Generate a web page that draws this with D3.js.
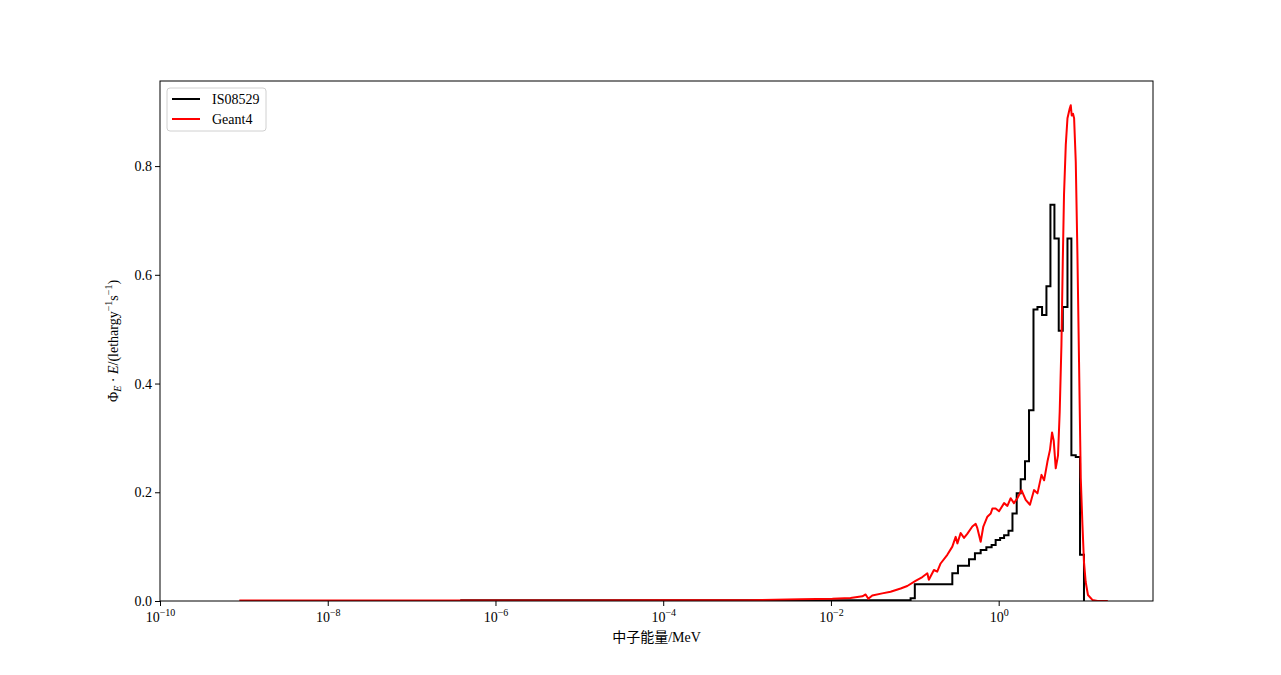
<!DOCTYPE html>
<html>
<head>
  <meta charset="utf-8" />
  <title>Neutron spectrum</title>
  <script type="text/javascript" src="https://cdn.jsdelivr.net/npm/d3@7/dist/d3.min.js"></script>
  <style>
    body{
      margin: 0;
      background: white;
    }
    text{
      font-family: "Liberation Serif", "Noto Sans CJK SC", serif;
    }
  </style>
</head>
<body>
  <script type="text/javascript">
    // - - - - - CONSTANTS - - - - -//
    var w = 1281;
    var h = 675;
    var plotL = 160;
    var plotR = 1153;
    var plotT = 81;
    var plotB = 601;

    // - - - - - DATA - - - - - //
    //ISO8529 histogram: bin edges (MeV) and lethargy values per bin
    var isoEdges = [3.8e-7, 0.0891, 0.100, 0.280, 0.327, 0.443, 0.521, 0.610, 0.713,
      0.824, 0.920, 1.04, 1.16, 1.31, 1.46, 1.64, 1.83, 2.06, 2.30, 2.60, 2.90,
      3.29, 3.71, 4.14, 4.62, 5.20, 5.81, 6.61, 7.36, 8.30, 9.33, 10.4];
    var isoValues = [0.0015, 0.005, 0.031, 0.051, 0.065, 0.077, 0.088, 0.094, 0.099,
      0.103, 0.112, 0.116, 0.121, 0.129, 0.161, 0.198, 0.224, 0.257, 0.351, 0.536,
      0.541, 0.526, 0.579, 0.729, 0.667, 0.497, 0.541, 0.667, 0.268, 0.265, 0.085];

    //Geant4 simulated spectrum: energies (MeV) and values
    var g4Energy = [8.83e-10, 1e-8, 1e-7, 1e-6, 1e-5, 1e-4, 1e-3, 4.34e-3, 0.0104,
      0.0171, 0.0237, 0.0259, 0.0279, 0.0311, 0.0409, 0.0514, 0.0678, 0.0813,
      0.102, 0.123, 0.141, 0.147, 0.169, 0.185, 0.203, 0.244, 0.280, 0.307, 0.322,
      0.352, 0.386, 0.424, 0.485, 0.532, 0.557, 0.610, 0.656, 0.733, 0.804, 0.841,
      0.920, 1.01, 1.16, 1.27, 1.39, 1.52, 1.67, 1.87, 2.10, 2.36, 2.64, 2.90,
      3.24, 3.48, 3.81, 4.09, 4.33, 4.53, 4.79, 5.10, 5.34, 5.60, 5.81, 6.01,
      6.31, 6.61, 7.03, 7.23, 7.43, 7.71, 7.93, 8.30, 8.69, 9.08, 9.52, 9.97,
      10.4, 10.9, 11.6, 13.1, 15.1, 20.0];
    var g4Values = [0.0008, 0.0008, 0.0008, 0.0009, 0.001, 0.0012, 0.0015, 0.003, 0.004,
      0.0055, 0.0086, 0.012, 0.004, 0.010, 0.014, 0.017, 0.023, 0.0276,
      0.037, 0.044, 0.051, 0.039, 0.057, 0.054, 0.069, 0.085, 0.100, 0.118, 0.106,
      0.125, 0.116, 0.124, 0.137, 0.142, 0.134, 0.109, 0.137, 0.155, 0.161, 0.170,
      0.170, 0.165, 0.180, 0.175, 0.189, 0.180, 0.189, 0.204, 0.186, 0.177, 0.204, 0.198,
      0.232, 0.222, 0.256, 0.278, 0.310, 0.295, 0.244, 0.268, 0.348, 0.471, 0.624, 0.747,
      0.839, 0.888, 0.906, 0.912, 0.893, 0.896, 0.888, 0.808, 0.636, 0.440, 0.226, 0.140,
      0.072, 0.035, 0.011, 0.002, 0.0, 0.0];

    //Axis ticks
    var xTicks = [1e-10, 1e-8, 1e-6, 1e-4, 1e-2, 1];
    var xTickExp = ["\u221210", "\u22128", "\u22126", "\u22124", "\u22122", "0"];
    var yTicks = [0, 0.2, 0.4, 0.6, 0.8];
    var seriesNames = ["IS08529", "Geant4"];
    var seriesColors = ["black", "red"];

    // - - - - - CANVAS ELEMENT - - - - - //
    var svg = d3.select("body")
      .append("svg")
      .attr("width", w)
      .attr("height", h);

    // - - - - - SCALES - - - - - //
    var xScale = d3.scaleLog()
      .domain([1e-10, Math.pow(10, 1.84)])
      .range([plotL, plotR]);
    var yScale = d3.scaleLinear()
      .domain([0, 0.9565])
      .range([plotB, plotT]);

    // - - - - - CLIP - - - - - //
    svg.append("clipPath")
      .attr("id", "plotclip")
      .append("rect")
      .attr("x", plotL)
      .attr("y", plotT)
      .attr("width", plotR - plotL)
      .attr("height", plotB - plotT);

    var plot = svg.append("g")
      .attr("clip-path", "url(#plotclip)");

    // - - - - - ISO8529 STEP HISTOGRAM - - - - - //
    var isoPts = isoValues.map(function(v, i){
      return [isoEdges[i], v];
    });
    isoPts.push([isoEdges[isoEdges.length - 1], 0]);

    plot.append("path")
      .datum(isoPts)
      .attr("fill", "none")
      .attr("stroke", seriesColors[0])
      .attr("stroke-width", 2)
      .attr("d", d3.line()
        .curve(d3.curveStepAfter)
        .x(function(d){ return xScale(d[0]); })
        .y(function(d){ return yScale(d[1]); }));

    // - - - - - GEANT4 LINE - - - - - //
    plot.append("path")
      .datum(d3.zip(g4Energy, g4Values))
      .attr("fill", "none")
      .attr("stroke", seriesColors[1])
      .attr("stroke-width", 2)
      .attr("stroke-linejoin", "round")
      .attr("d", d3.line()
        .x(function(d){ return xScale(d[0]); })
        .y(function(d){ return yScale(d[1]); }));

    // - - - - - AXES - - - - - //
    var xAxis = svg.append("g")
      .attr("transform", "translate(0," + plotB + ")")
      .call(d3.axisBottom(xScale)
        .tickValues(xTicks)
        .tickSize(5)
        .tickSizeOuter(0)
        .tickFormat(function(){ return ""; }));
    xAxis.select(".domain").remove();
    xAxis.selectAll(".tick line").attr("stroke", "black");
    xAxis.selectAll(".tick text").remove();
    xAxis.selectAll(".tick")
      .append("text")
      .attr("y", 21)
      .attr("fill", "black")
      .attr("font-size", "14px")
      .attr("text-anchor", "middle")
      .each(function(d, i){
        var t = d3.select(this);
        t.append("tspan").text("10");
        t.append("tspan")
          .attr("dy", -6)
          .attr("font-size", "10px")
          .text(xTickExp[i]);
      });

    var yAxis = svg.append("g")
      .attr("transform", "translate(" + plotL + ",0)")
      .call(d3.axisLeft(yScale)
        .tickValues(yTicks)
        .tickSize(5)
        .tickSizeOuter(0)
        .tickFormat(d3.format(".1f")));
    yAxis.select(".domain").remove();
    yAxis.selectAll(".tick line").attr("stroke", "black");
    yAxis.selectAll(".tick text")
      .attr("x", -8)
      .attr("fill", "black")
      .attr("font-size", "14px")
      .attr("font-family", "Liberation Serif, serif");

    //Frame
    svg.append("rect")
      .attr("x", plotL)
      .attr("y", plotT)
      .attr("width", plotR - plotL)
      .attr("height", plotB - plotT)
      .attr("fill", "none")
      .attr("stroke", "black")
      .attr("stroke-width", 1);

    // - - - - - AXIS LABELS - - - - - //
    svg.append("text")
      .attr("x", (plotL + plotR) / 2)
      .attr("y", 642)
      .attr("text-anchor", "middle")
      .attr("font-size", "14px")
      .text("中子能量/MeV");

    var ylab = svg.append("text")
      .attr("transform", "translate(118," + ((plotT + plotB) / 2) + ") rotate(-90)")
      .attr("text-anchor", "middle")
      .attr("font-size", "14px");
    ylab.append("tspan").text("\u03A6");
    ylab.append("tspan").attr("font-style", "italic").attr("font-size", "10px").attr("dy", 3).text("E");
    ylab.append("tspan").attr("dy", -3).text(" \u00B7 ");
    ylab.append("tspan").attr("font-style", "italic").text("E");
    ylab.append("tspan").text("/(lethargy");
    ylab.append("tspan").attr("font-size", "10px").attr("dy", -6).text("\u22121");
    ylab.append("tspan").attr("dy", 6).text("s");
    ylab.append("tspan").attr("font-size", "10px").attr("dy", -6).text("\u22121");
    ylab.append("tspan").attr("dy", 6).text(")");

    // - - - - - LEGEND - - - - - //
    var legend = svg.append("g")
      .attr("transform", "translate(167,88)");
    legend.append("rect")
      .attr("width", 99)
      .attr("height", 43)
      .attr("rx", 3)
      .attr("fill", "white")
      .attr("stroke", "#d0d0d0");
    var item = legend.selectAll("g.item")
      .data(seriesNames)
      .enter()
      .append("g")
      .classed("item", true)
      .attr("transform", function(d, i){
        return "translate(0," + (11 + i * 20) + ")";
      });
    item.append("line")
      .attr("x1", 5)
      .attr("x2", 33)
      .attr("stroke", function(d, i){ return seriesColors[i]; })
      .attr("stroke-width", 2);
    item.append("text")
      .attr("x", 45)
      .attr("dy", "0.35em")
      .attr("font-size", "14px")
      .text(function(d){ return d; });
  </script>
</body>
</html>
